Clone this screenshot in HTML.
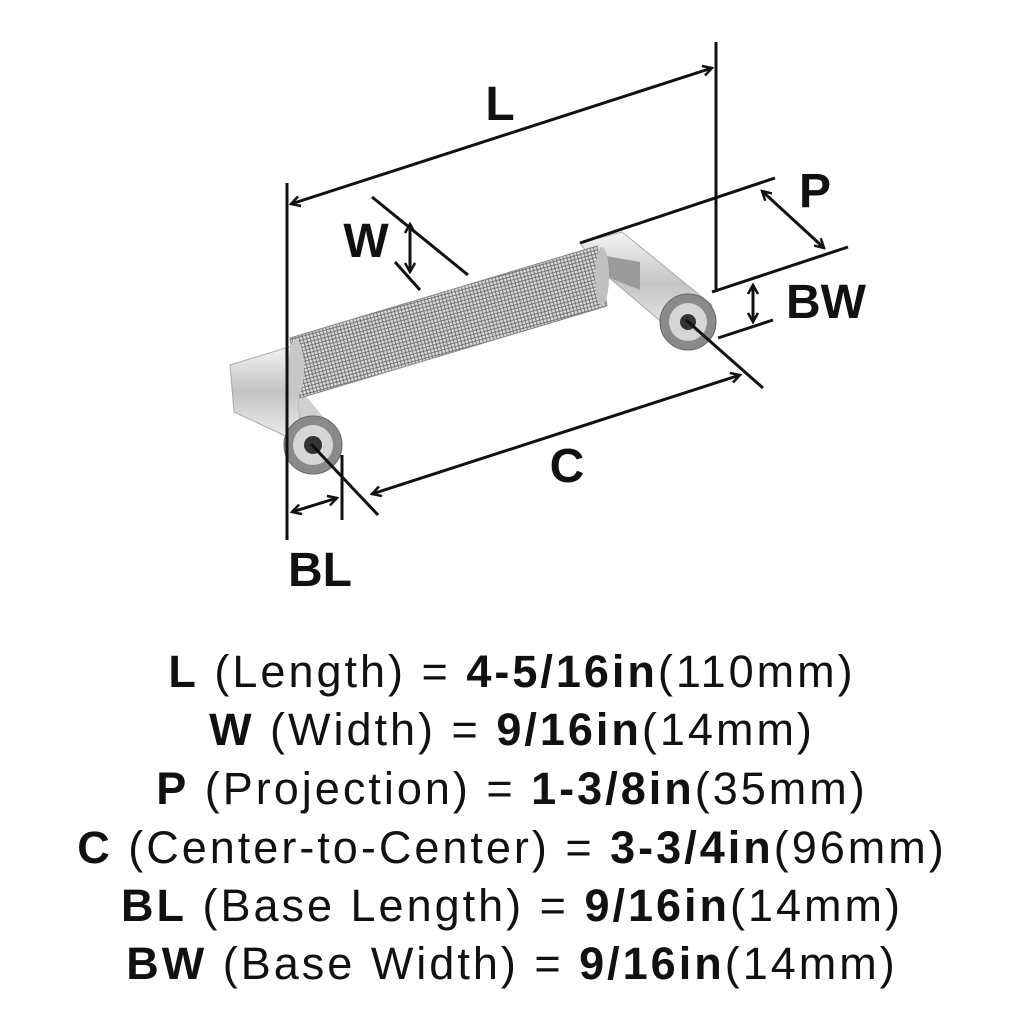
<!DOCTYPE html>
<html><head><style>
html,body{margin:0;padding:0;background:#fff;width:1024px;height:1024px;overflow:hidden}
svg{position:absolute;left:0;top:0}
.t{position:absolute;left:0;width:1024px;text-align:center;font-family:"Liberation Sans",sans-serif;font-size:45px;letter-spacing:3px;color:#111;line-height:46px;white-space:nowrap}
b{font-weight:bold}
</style></head><body>
<svg width="1024" height="1024" viewBox="0 0 1024 1024">
<defs>
<pattern id="k" width="5" height="5" patternUnits="userSpaceOnUse" patternTransform="rotate(30)">
<rect width="5" height="5" fill="#dcdcdc"/>
<path d="M0 0L5 5M5 0L0 5" stroke="#6a6a6a" stroke-width="0.9"/>
</pattern>
<linearGradient id="m" x1="0" y1="0" x2="0" y2="1">
<stop offset="0" stop-color="#f4f4f4"/><stop offset=".5" stop-color="#c4c4c4"/><stop offset="1" stop-color="#ececec"/>
</linearGradient>
<marker id="a" markerWidth="12" markerHeight="12" refX="10" refY="6" orient="auto-start-reverse" markerUnits="userSpaceOnUse">
<path d="M1 1L10 6L1 11" fill="none" stroke="#111" stroke-width="2.5"/>
</marker>
</defs>
<polygon points="230,365 295,345 300,425 290,438 234,412" fill="url(#m)" stroke="#aaa" stroke-width="1"/>
<polygon points="295,345 300,425 330,425 305,395" fill="#cfcfcf"/>
<polygon points="580,243 622,232 712,305 700,335 665,325 600,270" fill="url(#m)" stroke="#aaa" stroke-width="1"/>
<polygon points="600,255 640,262 640,290 610,278" fill="#9a9a9a"/>
<polygon points="290,338 597,246 607,306 300,398" fill="url(#k)" stroke="#888" stroke-width="1"/>
<ellipse cx="296" cy="368" rx="8" ry="29" fill="#c8c8c8"/>
<ellipse cx="602" cy="276" rx="7" ry="29" fill="#c0c0c0"/>
<circle cx="313" cy="445" r="29" fill="#8a8a8a" stroke="#666"/>
<circle cx="313" cy="445" r="20" fill="#d6d6d6"/>
<circle cx="313" cy="445" r="9" fill="#333"/>
<circle cx="688" cy="322" r="28" fill="#8a8a8a" stroke="#666"/>
<circle cx="688" cy="322" r="19" fill="#d6d6d6"/>
<circle cx="688" cy="322" r="8" fill="#333"/>
<g stroke="#111" stroke-width="3" fill="none">
<line x1="287" y1="183" x2="287" y2="540"/>
<line x1="716" y1="42" x2="716" y2="292"/>
<line x1="291" y1="204" x2="712" y2="68" marker-start="url(#a)" marker-end="url(#a)"/>
<line x1="372" y1="197" x2="468" y2="275"/>
<line x1="395" y1="262" x2="420" y2="290"/>
<line x1="410" y1="224" x2="410" y2="272" marker-start="url(#a)" marker-end="url(#a)"/>
<line x1="580" y1="243" x2="775" y2="178"/>
<line x1="712" y1="292" x2="848" y2="247"/>
<line x1="762" y1="191" x2="824" y2="248" marker-start="url(#a)" marker-end="url(#a)"/>
<line x1="753" y1="285" x2="753" y2="322" marker-start="url(#a)" marker-end="url(#a)"/>
<line x1="718" y1="338" x2="773" y2="320"/>
<line x1="686" y1="320" x2="763" y2="388"/>
<line x1="372" y1="494" x2="740" y2="375" marker-start="url(#a)" marker-end="url(#a)"/>
<line x1="311" y1="444" x2="378" y2="515"/>
<line x1="342" y1="455" x2="342" y2="520"/>
<line x1="292" y1="512" x2="337" y2="498" marker-start="url(#a)" marker-end="url(#a)"/>
</g>
<g font-family="Liberation Sans,sans-serif" font-size="48" font-weight="bold" fill="#111" text-anchor="middle">
<text x="500" y="120">L</text>
<text x="366" y="257">W</text>
<text x="815" y="207">P</text>
<text x="826" y="318">BW</text>
<text x="567" y="482">C</text>
<text x="320" y="586">BL</text>
</g>
</svg>
<div class="t" style="top:649px"><b>L</b> (Length) = <b>4-5/16in</b>(110mm)</div>
<div class="t" style="top:707px"><b>W</b> (Width) = <b>9/16in</b>(14mm)</div>
<div class="t" style="top:766px"><b>P</b> (Projection) = <b>1-3/8in</b>(35mm)</div>
<div class="t" style="top:825px"><b>C</b> (Center-to-Center) = <b>3-3/4in</b>(96mm)</div>
<div class="t" style="top:883px"><b>BL</b> (Base Length) = <b>9/16in</b>(14mm)</div>
<div class="t" style="top:941px"><b>BW</b> (Base Width) = <b>9/16in</b>(14mm)</div>
</body></html>
